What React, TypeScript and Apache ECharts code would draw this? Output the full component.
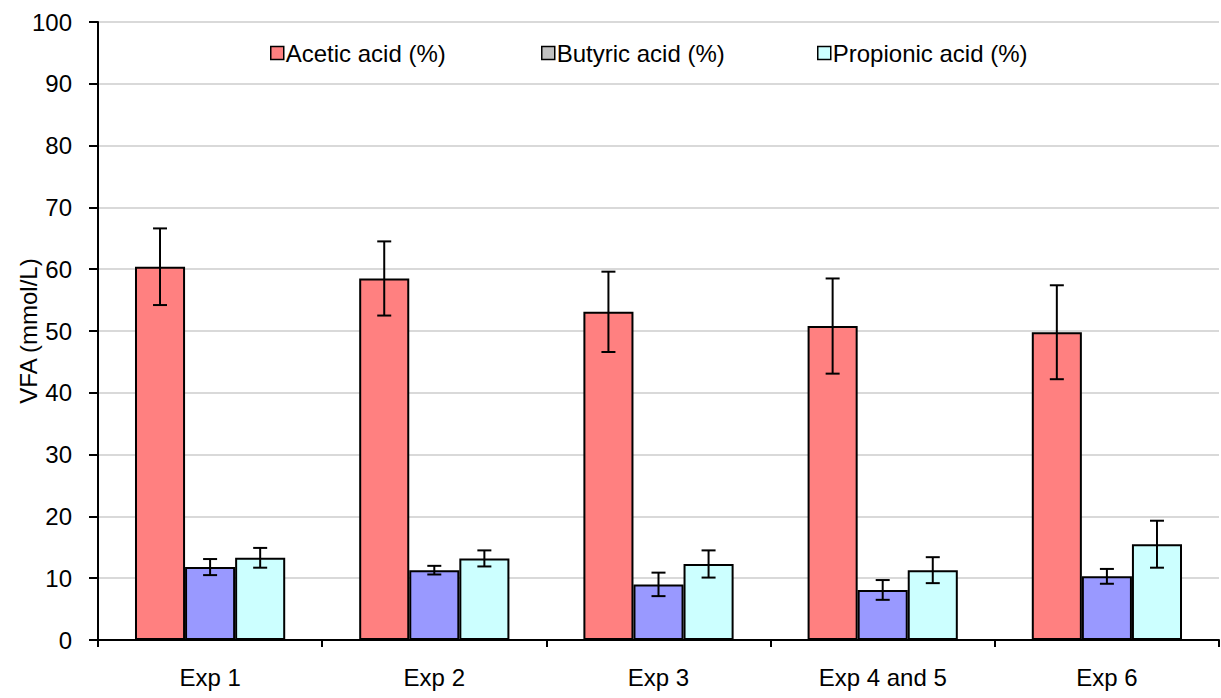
import React, { useEffect, useRef } from "react";
import * as echarts from "echarts";

const categories = ["Exp 1", "Exp 2", "Exp 3", "Exp 4 and 5", "Exp 6"];
const seriesNames = ["Acetic acid (%)", "Butyric acid (%)", "Propionic acid (%)"];
const acetic = [60.4, 58.5, 53.1, 50.8, 49.8];
const aceticErr = [6.2, 6.0, 6.5, 7.7, 7.6];
const butyric = [11.8, 11.3, 9.0, 8.1, 10.3];
const butyricErr = [1.3, 0.7, 1.9, 1.6, 1.2];
const propionic = [13.3, 13.2, 12.3, 11.3, 15.5];
const propionicErr = [1.6, 1.3, 2.2, 2.1, 3.8];
const barColors = ["#FF8080", "#9999FF", "#CCFFFF"];
const legendIconColors = ["#FF8080", "#C0C0C0", "#CCFFFF"];

const FONT = "'Liberation Sans', Arial, sans-serif";
const CAT_GAP = 0.33;

function errorSeries(idx: number, means: number[], errs: number[]) {
  return {
    type: "custom",
    name: "err" + idx,
    z: 10,
    silent: true,
    encode: { x: 0, y: [1, 2] },
    data: means.map((m, i) => [i, m - errs[i], m + errs[i]]),
    renderItem: (params: any, api: any) => {
      const ci = api.value(0);
      const lo = api.value(1);
      const hi = api.value(2);
      const band = api.size([1, 0])[0];
      const bw = (band * (1 - CAT_GAP)) / 3;
      const x = api.coord([ci, 0])[0] + (idx - 1) * bw;
      const yTop = api.coord([ci, hi])[1];
      const yBot = api.coord([ci, lo])[1];
      const cap = 7;
      const style = { stroke: "#000", lineWidth: 2 };
      return {
        type: "group",
        children: [
          { type: "line", shape: { x1: x, y1: yTop, x2: x, y2: yBot }, style },
          { type: "line", shape: { x1: x - cap, y1: yTop, x2: x + cap, y2: yTop }, style },
          { type: "line", shape: { x1: x - cap, y1: yBot, x2: x + cap, y2: yBot }, style },
        ],
      };
    },
  };
}

export default function App() {
  const ref = useRef<HTMLDivElement>(null);
  useEffect(() => {
    if (!ref.current) return;
    const chart = echarts.init(ref.current, null, { renderer: "svg" });
    const values = [acetic, butyric, propionic];
    const errs = [aceticErr, butyricErr, propionicErr];
    const legendLefts = [265, 536, 812];
    chart.setOption({
      animation: false,
      backgroundColor: "#fff",
      textStyle: { fontFamily: FONT },
      grid: {
        left: 98,
        right: 2,
        top: 22,
        bottom: 58,
        containLabel: false,
        outerBoundsMode: "none",
      },
      legend: seriesNames.map((n, i) => ({
        data: [{ name: n, itemStyle: { color: legendIconColors[i], borderColor: "#000", borderWidth: 1.5 } }],
        left: legendLefts[i],
        top: 36,
        icon: "rect",
        itemWidth: 13,
        itemHeight: 13,
        itemGap: 0,
        textStyle: { fontFamily: FONT, fontSize: 24, color: "#000", padding: [0, 0, 0, -3] },
        selectedMode: false,
      })),
      xAxis: {
        type: "category",
        data: categories,
        axisLine: { lineStyle: { color: "#000", width: 2 } },
        axisTick: { show: true, length: 7, lineStyle: { color: "#000", width: 2 } },
        axisLabel: { color: "#000", fontSize: 24, fontFamily: FONT, margin: 25 },
        splitLine: { show: false },
      },
      yAxis: {
        type: "value",
        min: 0,
        max: 100,
        interval: 10,
        name: "VFA (mmol/L)",
        nameLocation: "middle",
        nameGap: 58,
        nameRotate: 90,
        nameMoveOverlap: false,
        nameTextStyle: { color: "#000", fontSize: 24, fontFamily: FONT },
        axisLine: { show: true, lineStyle: { color: "#000", width: 2 } },
        axisTick: { show: true, length: 9, lineStyle: { color: "#000", width: 2 } },
        axisLabel: { color: "#000", fontSize: 24, fontFamily: FONT, margin: 26 },
        splitLine: { show: true, lineStyle: { color: "#d9d9d9", width: 2 } },
      },
      series: [
        ...seriesNames.map((n, i) => ({
          type: "bar",
          name: n,
          data: values[i],
          barGap: "0%",
          barCategoryGap: CAT_GAP * 100 + "%",
          itemStyle: { color: barColors[i], borderColor: "#000", borderWidth: 2 },
        })),
        ...seriesNames.map((n, i) => errorSeries(i, values[i], errs[i])),
      ],
    });
    return () => chart.dispose();
  }, []);
  return (
    <div
      ref={ref}
      style={{ position: "absolute", left: 0, top: 0, width: 1221, height: 698 }}
    />
  );
}
